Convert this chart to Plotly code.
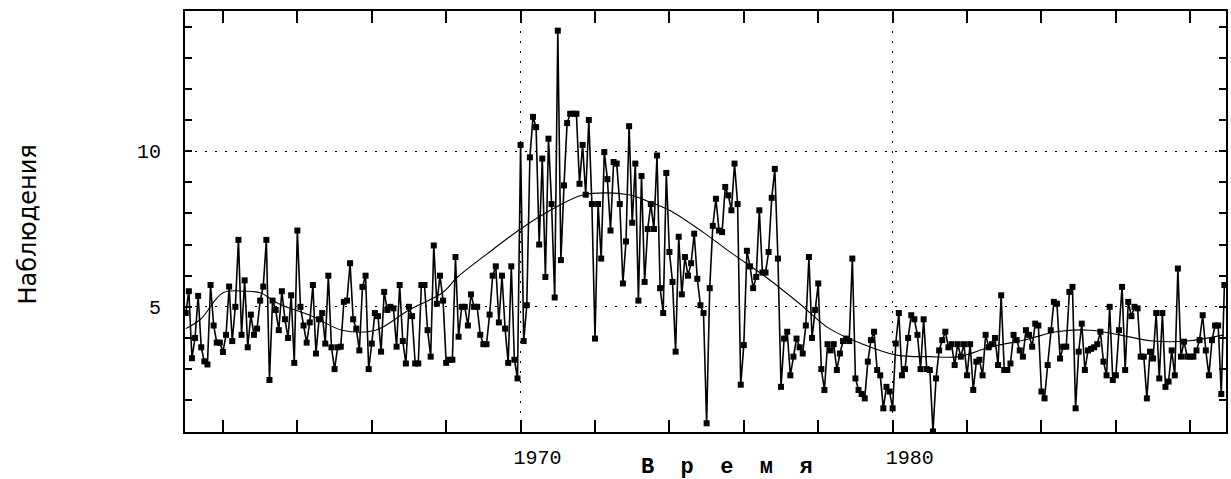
import plotly.graph_objects as go

obs_1961_1964 = [4.8, 5.5, 3.35, 4.0, 5.35, 3.7, 3.25, 3.15, 5.7, 4.4, 3.85, 3.85,
                 3.55, 4.1, 5.65, 3.9, 5.0, 7.15, 4.1, 5.85, 3.7, 4.75, 4.1, 4.3,
                 5.2, 5.65, 7.15, 2.65, 5.2, 4.9, 4.25, 5.5, 4.6, 4.0, 5.37, 3.2,
                 7.45, 5.0, 4.4, 3.85, 4.5, 5.7, 3.5, 4.6, 4.8, 3.82, 6.0, 3.7]
obs_1965_1968 = [3.0, 3.7, 3.72, 5.16, 5.2, 6.4, 4.6, 4.3, 3.6, 5.64, 6.0, 3.0,
                 3.82, 4.8, 4.7, 3.56, 5.48, 4.9, 5.0, 4.95, 3.72, 5.7, 3.9, 3.18,
                 5.0, 4.7, 3.18, 3.18, 5.7, 5.7, 4.25, 3.4, 6.97, 5.1, 6.0, 5.2,
                 3.2, 3.3, 3.3, 6.6, 4.04, 5.0, 5.0, 4.4, 5.4, 5.0, 5.0, 4.1]
obs_1969_1972 = [3.8, 3.8, 4.75, 6.0, 6.3, 4.5, 6.0, 4.3, 3.2, 6.3, 3.3, 2.7,
                 10.2, 3.9, 5.05, 9.8, 11.1, 10.77, 7.0, 9.76, 5.96, 10.4, 8.3, 5.3,
                 13.87, 6.5, 8.9, 10.9, 11.2, 11.2, 11.2, 8.95, 10.2, 8.6, 11.0, 8.3,
                 3.98, 8.3, 6.55, 9.97, 9.1, 7.45, 9.65, 9.6, 8.3, 5.75, 7.1, 10.8]
obs_1973_1976 = [7.7, 9.6, 5.2, 9.2, 5.8, 7.5, 8.3, 7.5, 9.86, 5.6, 4.8, 9.3,
                 6.76, 5.8, 3.56, 7.25, 5.4, 6.6, 6.0, 6.4, 7.35, 5.9, 5.05, 4.8,
                 1.26, 5.6, 7.6, 8.47, 7.45, 7.4, 8.85, 8.58, 8.1, 9.6, 8.3, 2.5,
                 3.77, 6.8, 6.3, 5.6, 5.96, 8.1, 6.1, 6.1, 6.76, 8.5, 9.43, 6.55]
obs_1977_1980 = [2.43, 3.98, 4.2, 2.8, 3.4, 3.98, 3.7, 3.5, 4.4, 6.6, 4.0, 4.9,
                 5.75, 3.0, 2.33, 3.8, 3.6, 3.8, 2.97, 3.5, 3.9, 3.98, 3.9, 6.55,
                 2.7, 2.33, 2.2, 2.06, 3.24, 3.93, 4.2, 2.97, 2.8, 1.74, 2.43, 2.28,
                 1.74, 3.82, 4.8, 2.8, 3.0, 4.0, 4.73, 4.6, 4.1, 3.0, 4.6, 3.0]
obs_1981_1984 = [2.97, 1.0, 2.7, 3.6, 3.93, 4.2, 3.7, 3.8, 3.13, 3.8, 3.4, 3.8,
                 2.8, 3.8, 2.33, 3.24, 3.3, 2.8, 4.1, 3.7, 3.8, 4.0, 3.13, 5.37,
                 2.97, 2.97, 3.18, 4.1, 3.93, 3.6, 3.4, 4.25, 4.1, 3.72, 4.46, 4.4,
                 2.28, 2.06, 3.13, 4.25, 5.16, 5.1, 3.34, 3.72, 3.72, 5.48, 5.64, 1.74]
obs_1985_1988 = [3.56, 4.46, 2.97, 3.6, 3.65, 3.7, 3.8, 4.2, 3.24, 2.8, 5.0, 2.65,
                 2.8, 4.25, 5.64, 2.97, 5.16, 4.7, 5.0, 4.95, 3.4, 3.4, 2.06, 3.56,
                 3.34, 4.8, 2.7, 4.8, 2.43, 2.6, 3.6, 2.8, 6.23, 3.4, 3.88, 3.4,
                 3.4, 3.4, 3.6, 3.93, 4.73, 3.6, 2.8, 3.93, 4.4, 4.4, 2.2, 5.7]

start_year = 1961

# Smooth fitted curve
trend_x = [1961.0, 1961.4, 1962.0, 1962.6, 1963.0, 1963.5, 1964.4, 1965.2, 1966.1,
           1967.0, 1967.9, 1968.3, 1969.1, 1970.0, 1970.8, 1971.7, 1972.9, 1973.4,
           1974.0, 1974.9, 1975.7, 1976.6, 1977.5, 1978.3, 1979.2, 1980.1, 1981.0,
           1981.8, 1982.6, 1983.6, 1984.4, 1985.3, 1986.1, 1987.0, 1987.9, 1988.9]
trend_y = [4.3, 4.6, 5.45, 5.5, 5.45, 5.1, 4.7, 4.25, 4.25,
           4.9, 5.45, 5.95, 6.7, 7.5, 8.1, 8.6, 8.6, 8.4,
           8.1, 7.4, 6.7, 5.95, 5.1, 4.3, 3.8, 3.45, 3.4,
           3.4, 3.7, 3.95, 4.2, 4.25, 4.1, 3.9, 3.9, 4.1]

x_major = [1970, 1980]
x_minor = [1962, 1964, 1966, 1968, 1972, 1974, 1976, 1978, 1982, 1984, 1986, 1988]
y_major = [5, 10]
y_minor = [1, 2, 3, 4, 6, 7, 8, 9, 11, 12, 13, 14]

obs = (obs_1961_1964 + obs_1965_1968 + obs_1969_1972 + obs_1973_1976 +
       obs_1977_1980 + obs_1981_1984 + obs_1985_1988)
t = [start_year + i / 12 for i in range(len(obs))]

fig = go.Figure()
fig.add_trace(go.Scatter(
    x=t, y=obs, mode="lines+markers",
    line=dict(color="black", width=1.6),
    marker=dict(symbol="square", size=6, color="black"),
    showlegend=False, hoverinfo="skip"))
fig.add_trace(go.Scatter(
    x=trend_x, y=trend_y, mode="lines",
    line=dict(color="black", width=1.1, shape="spline", smoothing=1.0),
    showlegend=False, hoverinfo="skip"))

tickfont = dict(family="Liberation Mono", size=20, color="black")
common = dict(
    showline=True, linecolor="black", linewidth=2, mirror="ticks",
    ticks="inside", tickcolor="black", tickwidth=2,
    showgrid=True, gridcolor="black", gridwidth=1.2, griddash="2px,8px",
    zeroline=False, tickfont=tickfont,
)

fig.update_layout(
    width=1231, height=479,
    margin=dict(l=185, r=3, t=11, b=47),
    paper_bgcolor="white", plot_bgcolor="white",
    xaxis=dict(range=[1960.98, 1988.96], tickmode="array", tickvals=x_major,
               ticktext=[str(v) for v in x_major], ticklen=12,
               ticklabelshift=17, ticklabelstandoff=6,
               minor=dict(tickmode="array", tickvals=x_minor, ticks="inside",
                          ticklen=12, tickwidth=2, tickcolor="black", showgrid=False),
               **common),
    yaxis=dict(range=[0.98, 14.5], tickmode="array", tickvals=y_major,
               ticktext=[str(v) for v in y_major], ticklen=7,
               ticklabelstandoff=18,
               minor=dict(tickmode="array", tickvals=y_minor, ticks="inside",
                          ticklen=7, tickwidth=2, tickcolor="black", showgrid=False),
               **common),
    annotations=[
        dict(text="В\u00a0\u00a0р\u00a0\u00a0е\u00a0\u00a0м\u00a0\u00a0я",
             xref="paper", yref="paper", x=0.5, y=0, xshift=21, yshift=-35,
             xanchor="center", yanchor="middle", showarrow=False,
             font=dict(family="Liberation Mono", size=22, color="black", weight="bold")),
        dict(text="Наблюдения", textangle=-90,
             xref="paper", yref="paper", x=0, y=0.5, xshift=-158, yshift=-3,
             xanchor="center", yanchor="middle", showarrow=False,
             font=dict(family="DejaVu Sans", size=24, color="black")),
    ],
)

fig.write_html("out.html")
